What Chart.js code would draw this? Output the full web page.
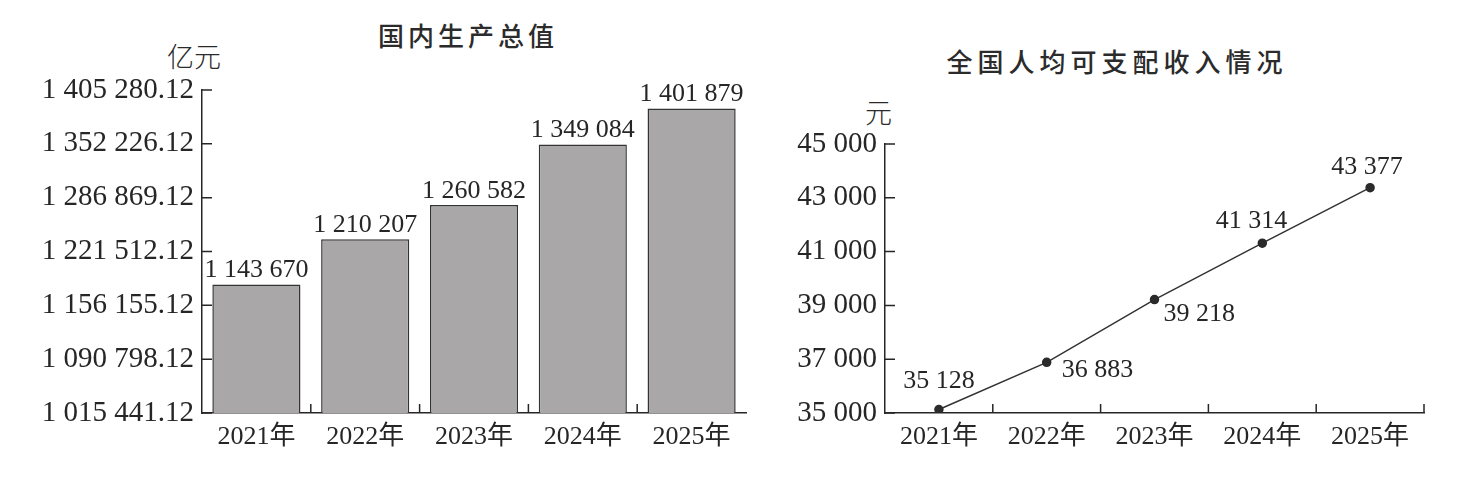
<!DOCTYPE html>
<html lang="zh-CN">
<head>
<meta charset="UTF-8">
<title>国内生产总值与全国人均可支配收入情况</title>
<script src="https://cdn.jsdelivr.net/npm/chart.js@4.4.1/dist/chart.umd.min.js"></script>
<style>
  html, body { margin: 0; padding: 0; background: #fff; }
  #page { position: relative; width: 1463px; height: 482px; overflow: hidden; }
  .box { position: absolute; top: 0; height: 482px; }
  .title {
    position: absolute; text-align: center; color: #2b2b2b;
    font-family: "Noto Sans CJK SC", sans-serif; font-weight: 500;
    font-size: 26px; line-height: 30px; white-space: nowrap;
  }
  .unit {
    position: absolute; color: #2b2b2b; white-space: nowrap;
    font-family: "Noto Sans CJK SC", sans-serif; font-weight: 300; font-size: 27px; line-height: 30px;
  }
</style>
</head>
<body>
<div id="page">
  <div class="title" style="left:264px; width:400px; top:20px; letter-spacing:4px; padding-left:4px;">国内生产总值</div>
  <div class="title" style="left:862px; width:500px; top:46px; letter-spacing:5px; padding-left:5px;">全国人均可支配收入情况</div>
  <div class="unit" style="left:167px; top:41px;">亿元</div>
  <div class="unit" style="left:865px; top:97px;">元</div>
  <div class="box" style="left:0; width:760px;"><canvas id="gdpChart" width="760" height="482"></canvas></div>
  <div class="box" style="left:760px; width:703px;"><canvas id="incomeChart" width="703" height="482"></canvas></div>
</div>

<script>
    // data
    var years = ['2021年', '2022年', '2023年', '2024年', '2025年'];
    var gdpValues = [1143670, 1210207, 1260582, 1349084, 1401879];
    var gdpTickLabels = ['1 015 441.12', '1 090 798.12', '1 156 155.12', '1 221 512.12',
                         '1 286 869.12', '1 352 226.12', '1 405 280.12'];
    var incomeValues = [35128, 36883, 39218, 41314, 43377];
    var incomeTicks = [35000, 37000, 39000, 41000, 43000, 45000];

    var ink = '#262626';
    var serif = '"Liberation Serif", "Noto Sans CJK SC", serif';

    function spaced(n) {
        return String(n).replace(/\B(?=(\d{3})+(?!\d))/g, ' ');
    }

    // short ticks pointing into the plot, like the printed figure
    function innerTicks(endTick) {
        return {
            id: 'innerTicks',
            afterDraw: function (chart) {
                var ctx = chart.ctx, a = chart.chartArea;
                var xs = chart.scales.x, ys = chart.scales.y;
                ctx.save();
                ctx.strokeStyle = ink;
                ctx.lineWidth = 1.5;
                ctx.beginPath();
                ys.ticks.forEach(function (t, i) {
                    var y = ys.getPixelForTick(i);
                    ctx.moveTo(a.left, y);
                    ctx.lineTo(a.left + 10, y);
                });
                var last = endTick ? years.length : years.length - 1;
                for (var i = 1; i <= last; i++) {
                    var x = xs.getPixelForValue(i - 0.5);
                    ctx.moveTo(x, a.bottom);
                    ctx.lineTo(x, a.bottom - 9);
                }
                ctx.stroke();
                ctx.restore();
            }
        };
    }

    var valueLabels = {
        id: 'valueLabels',
        afterDatasetsDraw: function (chart) {
            var ctx = chart.ctx;
            var meta = chart.getDatasetMeta(0);
            var opts = chart.options.plugins.valueLabels;
            ctx.save();
            ctx.fillStyle = ink;
            ctx.font = '26px ' + serif;
            meta.data.forEach(function (el, i) {
                var o = opts.place[i];
                ctx.textAlign = o.align;
                ctx.textBaseline = 'middle';
                ctx.fillText(spaced(chart.data.datasets[0].data[i]), el.x + o.dx, el.y + o.dy);
            });
            ctx.restore();
        }
    };

    var axisFont = { family: serif, size: 29 };
    var catFont = { family: serif, size: 26 };

    function xAxis() {
        return {
            grid: { display: false, drawTicks: false },
            border: { display: true, color: ink, width: 1.5 },
            ticks: { color: ink, font: catFont, padding: 9, maxRotation: 0 },
            afterFit: function (s) { s.height = 69; }
        };
    }

    // left: bar chart of GDP
    var gdpMin = 955090, gdpMax = 1429200;
    new Chart(document.getElementById('gdpChart'), {
        type: 'bar',
        data: {
            labels: years,
            datasets: [{
                data: gdpValues,
                backgroundColor: '#a9a7a7',
                borderColor: '#333',
                borderWidth: 1.5,
                barPercentage: 0.81,
                categoryPercentage: 1
            }]
        },
        options: {
            responsive: false,
            animation: false,
            events: [],
            layout: { padding: { top: 90, right: 14, left: 0, bottom: 0 } },
            plugins: {
                legend: { display: false },
                tooltip: { enabled: false },
                valueLabels: {
                    place: gdpValues.map(function () { return { align: 'center', dx: 0, dy: -14 }; })
                }
            },
            scales: {
                x: xAxis(),
                y: {
                    min: gdpMin,
                    max: gdpMax,
                    grid: { display: false, drawTicks: false },
                    border: { display: true, color: ink, width: 1.5 },
                    afterBuildTicks: function (s) {
                        var n = gdpTickLabels.length - 1;
                        s.ticks = gdpTickLabels.map(function (_, i) {
                            return { value: gdpMin + (gdpMax - gdpMin) * i / n };
                        });
                    },
                    ticks: {
                        color: ink, font: axisFont, padding: 8,
                        callback: function (v, i) { return gdpTickLabels[i]; }
                    },
                    afterFit: function (s) { s.width = 202; }
                }
            }
        },
        plugins: [innerTicks(false), valueLabels]
    });

    // right: line chart of per-capita income
    new Chart(document.getElementById('incomeChart'), {
        type: 'line',
        data: {
            labels: years,
            datasets: [{
                data: incomeValues,
                borderColor: '#333',
                borderWidth: 1.5,
                pointRadius: 4,
                pointBackgroundColor: '#2b2b2b',
                pointBorderColor: '#2b2b2b',
                tension: 0
            }]
        },
        options: {
            responsive: false,
            animation: false,
            events: [],
            layout: { padding: { top: 144, right: 39, left: 0, bottom: 0 } },
            plugins: {
                legend: { display: false },
                tooltip: { enabled: false },
                valueLabels: {
                    place: [
                        { align: 'center', dx: 0, dy: -28 },
                        { align: 'left', dx: 15, dy: 8 },
                        { align: 'left', dx: 9, dy: 15 },
                        { align: 'right', dx: 25, dy: -22 },
                        { align: 'center', dx: -3, dy: -20 }
                    ]
                }
            },
            scales: {
                x: Object.assign(xAxis(), { offset: true }),
                y: {
                    min: incomeTicks[0],
                    max: incomeTicks[incomeTicks.length - 1],
                    grid: { display: false, drawTicks: false },
                    border: { display: true, color: ink, width: 1.5 },
                    afterBuildTicks: function (s) {
                        s.ticks = incomeTicks.map(function (v) { return { value: v }; });
                    },
                    ticks: {
                        color: ink, font: axisFont, padding: 8,
                        callback: function (v) { return spaced(v); }
                    },
                    afterFit: function (s) { s.width = 125; }
                }
            }
        },
        plugins: [innerTicks(true), valueLabels]
    });
</script>
</body>
</html>
